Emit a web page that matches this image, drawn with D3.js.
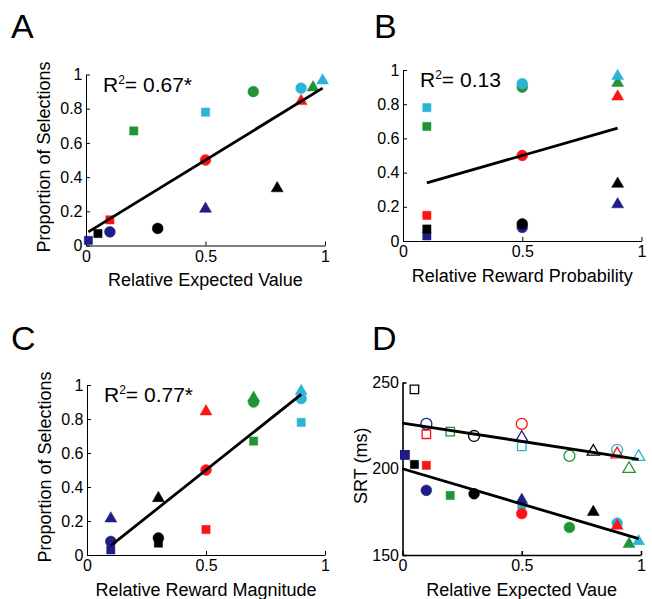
<!DOCTYPE html>
<html>
<head>
<meta charset="utf-8">
<script src="https://cdn.jsdelivr.net/npm/d3@7"></script>
<style>
  body { margin: 0; background: #fff; }
  svg { display: block; font-family: "Liberation Sans", Arial, Helvetica, sans-serif; }
</style>
</head>
<body>
<div id="chart"></div>
<script>
// ---------------------------------------------------------------------------
// data
// colour = relative reward magnitude, shape = relative reward probability
// ---------------------------------------------------------------------------
const magnitudes = [0.1, 0.3, 0.5, 0.7, 0.9]
const magnitudeColors = ["#201c88", "#000000", "#fb1414", "#1f9535", "#2db3d6"]
const probabilities = [0.1, 0.5, 0.9]
const probabilityShapes = ["square", "circle", "triangle"]

// relative expected value, one entry per magnitude (navy, black, red, green, cyan)
const evSquare   = [0.01, 0.05, 0.10, 0.20, 0.50]
const evCircle   = [0.10, 0.30, 0.50, 0.70, 0.90]
const evTriangle = [0.50, 0.80, 0.90, 0.95, 0.99]

// proportion of selections
const propSquare   = [0.03, 0.07, 0.15, 0.67, 0.78]
const propCircle   = [0.08, 0.10, 0.50, 0.90, 0.92]
const propTriangle = [0.22, 0.34, 0.85, 0.93, 0.97]

// saccadic reaction time (ms), filled and open markers
const srtFilledSquare   = [208, 202.5, 202, 184.5, 179]
const srtFilledCircle   = [187.5, 185.5, 174, 166, 168.5]
const srtFilledTriangle = [182.5, 175.5, 167.5, 157, 158.5]
const srtOpenSquare     = [208, 246, 220, 221.5, 213]
const srtOpenCircle     = [226, 219, 226, 207.5, 211]
const srtOpenTriangle   = [218.5, 210.5, 209, 200.5, 207.5]

// regression lines (end points)
const fitA = [[0.01, 0.08], [0.99, 0.92]]
const fitB = [[0.1, 0.34], [0.9, 0.66]]
const fitC = [[0.1, 0.055], [0.9, 0.945]]
const fitDOpen = [[0, 226.5], [0.99, 205.5]]
const fitDFilled = [[0, 200], [0.99, 159.5]]

const propTicks = [0, 0.2, 0.4, 0.6, 0.8, 1]
const xTicks = [0, 0.5, 1]
const srtTicks = [150, 200, 250]

// ---------------------------------------------------------------------------
const WIDTH = 652
const HEIGHT = 599
const TICK_FONT = 16
const TITLE_FONT = 18

const svg = d3.select("#chart").append("svg")
    .attr("width", WIDTH)
    .attr("height", HEIGHT)

const evByShape = [evSquare, evCircle, evTriangle]
const propByShape = [propSquare, propCircle, propTriangle]
const srtFilledByShape = [srtFilledSquare, srtFilledCircle, srtFilledTriangle]
const srtOpenByShape = [srtOpenSquare, srtOpenCircle, srtOpenTriangle]

function buildPoints(xFor, yByShape, open) {
    let pts = []
    probabilityShapes.forEach((shape, s) => {
        magnitudes.forEach((m, c) => {
            pts.push({
                x: xFor(s, c),
                y: yByShape[s][c],
                shape: shape,
                color: magnitudeColors[c],
                open: open
            })
        })
    })
    return pts
}

const symbolType = { square: d3.symbolSquare, circle: d3.symbolCircle, triangle: d3.symbolTriangle }
const symbolSize = { square: 68, circle: 92, triangle: 62 }
const openSize = { square: 72, circle: 95, triangle: 66 }

function drawPanel(cfg) {
    const g = svg.append("g")

    const x = d3.scaleLinear().domain([0, 1]).range([cfg.left, cfg.right])
    const y = d3.scaleLinear().domain(cfg.yDomain).range([cfg.bottom, cfg.top])

    const xAxis = g.append("g")
        .attr("transform", `translate(0,${cfg.bottom})`)
        .call(d3.axisBottom(x).tickValues(xTicks).tickFormat(d3.format("")).tickSize(-4).tickSizeOuter(0).tickPadding(5))
    const yAxis = g.append("g")
        .attr("transform", `translate(${cfg.left},0)`)
        .call(d3.axisLeft(y).tickValues(cfg.yTicks).tickFormat(d3.format("")).tickSize(-4).tickSizeOuter(0).tickPadding(3.5))

    ;[xAxis, yAxis].forEach(a => {
        a.selectAll("path, line").attr("stroke", "#000").attr("stroke-width", cfg.axisWidth || 1)
        a.selectAll("text").attr("fill", "#000").style("font-size", TICK_FONT + "px")
        a.attr("font-family", null)
    })

    // markers
    g.append("g")
        .selectAll("path")
        .data(cfg.points)
        .join("path")
        .attr("transform", d => {
            let dy = d.shape === "triangle" ? 1 : 0
            return `translate(${x(d.x)},${y(d.y) + dy})`
        })
        .attr("d", d => d3.symbol().type(symbolType[d.shape]).size(d.open ? openSize[d.shape] : symbolSize[d.shape])())
        .attr("fill", d => d.open ? "none" : d.color)
        .attr("stroke", d => d.color)
        .attr("stroke-width", d => d.open ? 1.3 : 0.5)

    // fit lines on top
    cfg.fits.forEach(f => {
        g.append("line")
            .attr("x1", x(f[0][0])).attr("y1", y(f[0][1]))
            .attr("x2", x(f[1][0])).attr("y2", y(f[1][1]))
            .attr("stroke", "#000")
            .attr("stroke-width", 2.8)
    })

    // x title
    g.append("text")
        .text(cfg.xTitle)
        .attr("x", (cfg.left + cfg.right) / 2)
        .attr("y", cfg.bottom + 40.5)
        .attr("text-anchor", "middle")
        .style("font-size", TITLE_FONT + "px")

    if (cfg.yTitle) {
        g.append("text")
            .text(cfg.yTitle)
            .attr("transform", `translate(${cfg.left - 36},${(cfg.top + cfg.bottom) / 2 - 3})rotate(-90)`)
            .attr("text-anchor", "middle")
            .style("font-size", TITLE_FONT + "px")
    }

    if (cfg.r2) {
        const t = g.append("text")
            .attr("x", cfg.left + 17)
            .attr("y", cfg.top + 17)
            .style("font-size", "21px")
        t.append("tspan").text("R")
        t.append("tspan").text("2").attr("dy", -8).style("font-size", "12px")
        t.append("tspan").text("= " + cfg.r2).attr("dy", 8)
    }

    // panel letter
    g.append("text")
        .text(cfg.letter)
        .attr("x", cfg.letterX)
        .attr("y", cfg.letterY)
        .style("font-size", "34px")
}

const xProp = (s, c) => probabilities[s]
const xMag = (s, c) => magnitudes[c]
const xEV = (s, c) => evByShape[s][c]

drawPanel({
    letter: "A", letterX: 11, letterY: 38,
    left: 86, right: 325, top: 74.5, bottom: 245.5,
    yDomain: [0, 1], yTicks: propTicks,
    points: buildPoints(xEV, propByShape, false),
    fits: [fitA],
    xTitle: "Relative Expected Value",
    yTitle: "Proportion of Selections",
    r2: "0.67*"
})

drawPanel({
    letter: "B", letterX: 374, letterY: 38,
    left: 403, right: 641.5, top: 70, bottom: 241,
    yDomain: [0, 1], yTicks: propTicks,
    points: buildPoints(xProp, propByShape, false),
    fits: [fitB],
    xTitle: "Relative Reward Probability",
    r2: "0.13"
})

drawPanel({
    letter: "C", letterX: 11, letterY: 350,
    left: 87, right: 325, top: 385, bottom: 555,
    yDomain: [0, 1], yTicks: propTicks,
    points: buildPoints(xMag, propByShape, false),
    fits: [fitC],
    xTitle: "Relative Reward Magnitude",
    yTitle: "Proportion of Selections",
    r2: "0.77*"
})

drawPanel({
    letter: "D", letterX: 372, letterY: 350,
    left: 402.5, right: 641, top: 382.5, bottom: 555,
    yDomain: [150, 250], yTicks: srtTicks, axisWidth: 1.6,
    points: buildPoints(xEV, srtOpenByShape, true).concat(buildPoints(xEV, srtFilledByShape, false)),
    fits: [fitDOpen, fitDFilled],
    xTitle: "Relative Expected Vaue",
    yTitle: "SRT (ms)"
})
</script>
</body>
</html>
